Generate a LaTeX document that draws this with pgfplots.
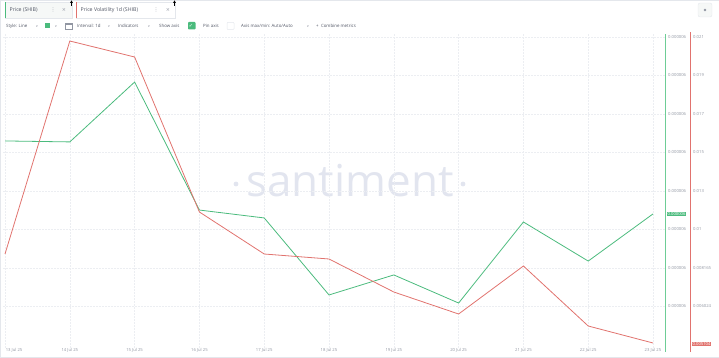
\documentclass[border=0pt]{standalone}
\usepackage{pgfplots}
\pgfplotsset{compat=1.18}
\usepackage{fontspec}
\setmainfont{Open Sans}
\newfontfamily\symfont{DejaVu Sans}
\definecolor{sgreen}{RGB}{75,187,125}
\definecolor{axgreen}{RGB}{110,205,150}
\definecolor{sred}{RGB}{225,115,110}
\definecolor{lbl}{RGB}{145,150,162}
\definecolor{gridc}{RGB}{228,231,236}
\definecolor{gridl}{RGB}{236,238,242}
\definecolor{wm}{RGB}{226,229,239}
\definecolor{txt}{RGB}{80,85,100}
\definecolor{tabbg}{RGB}{246,248,247}
\begin{document}
\begin{tikzpicture}[x=1pt,y=1pt]
\path[use as bounding box] (0,0) rectangle (719,358);
\draw[gridc, line width=0.5pt] (0.25,0.25) rectangle (718.75,357.75);
% watermark
\node[text=wm, font=\fontsize{44}{44}\selectfont, anchor=center, inner sep=0pt] at (350,177) {santiment};
\fill[wm] (236,174) circle (2.4);
\fill[wm] (463,174) circle (2.4);
% toolbar row 1
\draw[gridc, fill=tabbg] (5,340) rectangle (72,356);
\fill[sgreen] (5,340) rectangle (6.3,356);
\node[anchor=west, inner sep=0pt, text=txt, font=\fontsize{5.2}{6}\selectfont] at (9.5,348) {Price (SHIB)};
\node[inner sep=0pt, text=lbl, font=\symfont\fontsize{5}{6}\selectfont] at (53,348) {⋮};
\node[inner sep=0pt, text=lbl, font=\symfont\fontsize{5}{6}\selectfont] at (64,348) {×};
\fill[black] (71.5,357.5) -- (73,355) -- (70,355) -- cycle;
\draw[black, line width=0.5pt] (71.5,355) -- (71.5,352);
\draw[gridc, fill=white] (76,340) rectangle (175,356);
\fill[sred] (76,340) rectangle (77.3,356);
\node[anchor=west, inner sep=0pt, text=txt, font=\fontsize{5.2}{6}\selectfont] at (80.5,348) {Price Volatility 1d (SHIB)};
\node[inner sep=0pt, text=lbl, font=\symfont\fontsize{5}{6}\selectfont] at (156,348) {⋮};
\node[inner sep=0pt, text=lbl, font=\symfont\fontsize{5}{6}\selectfont] at (168,348) {×};
\fill[black] (174.5,357.5) -- (176,355) -- (173,355) -- cycle;
\draw[black, line width=0.5pt] (174.5,355) -- (174.5,352);
% settings button
\draw[gridc, fill=tabbg, rounded corners=2pt] (698,341) rectangle (712,355);
\fill[lbl] (705,348) circle (1.4);
% toolbar row 2
\begin{scope}[every node/.style={anchor=west, inner sep=0pt, text=txt, font=\fontsize{4.4}{5}\selectfont}]
\node at (6,332) {Style: Line};
\node[text=lbl, font=\symfont\fontsize{3.5}{4}\selectfont] at (35.5,332) {∨};
\fill[sgreen] (45,329.5) rectangle (50,334.5);
\node[text=lbl, font=\symfont\fontsize{3.5}{4}\selectfont] at (54.5,332) {∨};
\draw[lbl, line width=0.4pt] (65,329) rectangle (72,335);
\draw[lbl, line width=0.4pt] (65,333.5) -- (72,333.5);
\node at (77,332) {Interval: 1d};
\node[text=lbl, font=\symfont\fontsize{3.5}{4}\selectfont] at (107.5,332) {∨};
\node at (118,332) {Indicators};
\node[text=lbl, font=\symfont\fontsize{3.5}{4}\selectfont] at (147.5,332) {∨};
\node at (159,332) {Show axis};
\fill[sgreen, rounded corners=0.8pt] (188,328.5) rectangle (195.5,336);
\node[text=white, font=\symfont\fontsize{5}{5}\selectfont] at (188.6,332.2) {✓};
\node at (203,332) {Pin axis};
\draw[gridc, line width=0.5pt, rounded corners=0.8pt] (227,328.5) rectangle (234,335.5);
\node at (241,332) {Axis max/min: Auto/Auto};
\node[text=lbl, font=\symfont\fontsize{3.5}{4}\selectfont] at (306.5,332) {∨};
\node at (316,332) {+\ \ Combine metrics};
\end{scope}
% green price axis
\begin{axis}[at={(3pt,10pt)}, anchor=south west, scale only axis,
  width=662pt, height=315pt,
  xmin=-0.031, xmax=10.185, ymin=12.3844, ymax=14.0208,
  axis line style={draw opacity=0}, major tick length=0pt,
  clip=false, scaled y ticks=false,
  ymajorgrids, xmajorgrids,
  grid style={gridl, dash pattern=on 1.5pt off 1.5pt, line width=0.4pt},
  xtick={1,...,10},
  xticklabels={14 Jul 25,15 Jul 25,16 Jul 25,17 Jul 25,18 Jul 25,19 Jul 25,20 Jul 25,21 Jul 25,22 Jul 25,23 Jul 25},
  extra x ticks={0}, extra x tick labels={13 Jul 25},
  extra x tick style={xticklabel style={anchor=north west, xshift=0pt}},
  xticklabel style={font=\fontsize{4.2}{5}\selectfont, text=lbl, anchor=north, inner sep=0.6pt},
  ytick={14,13.8,13.6,13.4,13.2,13,12.8,12.6},
  yticklabels={0.000006,0.000006,0.000006,0.000006,0.000006,0.000006,0.000006,0.000006},
  yticklabel pos=right,
  yticklabel style={font=\fontsize{4.2}{5}\selectfont, text=lbl, anchor=west, inner sep=0pt, xshift=3pt},
  /pgf/number format/assume math mode=true]
\addplot[sgreen, line width=0.8pt, mark=none] coordinates {
(0,13.460) (1,13.455) (2,13.766) (3,13.101) (4,13.060) (5,12.660)
(6,12.764) (7,12.618) (8,13.039) (9,12.836) (10,13.081)};
\end{axis}
% red volatility axis
\begin{axis}[at={(3pt,10pt)}, anchor=south west, scale only axis,
  width=662pt, height=315pt,
  xmin=-0.031, xmax=10.185, ymin=0.004844, ymax=0.021208,
  axis line style={draw opacity=0}, major tick length=0pt,
  clip=false, scaled y ticks=false, xtick=\empty,
  ytick={0.021,0.019,0.017,0.015,0.013,0.011,0.009,0.007},
  yticklabels={0.021,0.019,0.017,0.015,0.013,0.01,0.008165,0.006024},
  yticklabel pos=right,
  yticklabel style={font=\fontsize{4.2}{5}\selectfont, text=lbl, anchor=west, inner sep=0pt, xshift=28pt},
  /pgf/number format/assume math mode=true]
\addplot[sred, line width=0.8pt, mark=none] coordinates {
(0,0.009727) (1,0.020792) (2,0.019961) (3,0.011909) (4,0.009727) (5,0.009468)
(6,0.007753) (7,0.006610) (8,0.009104) (9,0.005987) (10,0.005104)};
\end{axis}
% axis lines
\fill[axgreen] (664.5,6) rectangle (666,324);
\fill[sred] (689.6,6) rectangle (690.4,326);
\node[fill=sgreen, text=white, anchor=west, inner sep=0.9pt, font=\fontsize{4.2}{5}\selectfont] at (666.5,144) {0.000006};
\node[fill=sred, text=white, anchor=west, inner sep=0.9pt, font=\fontsize{4.2}{5}\selectfont] at (691.5,14) {0.005104};
\end{tikzpicture}
\end{document}
